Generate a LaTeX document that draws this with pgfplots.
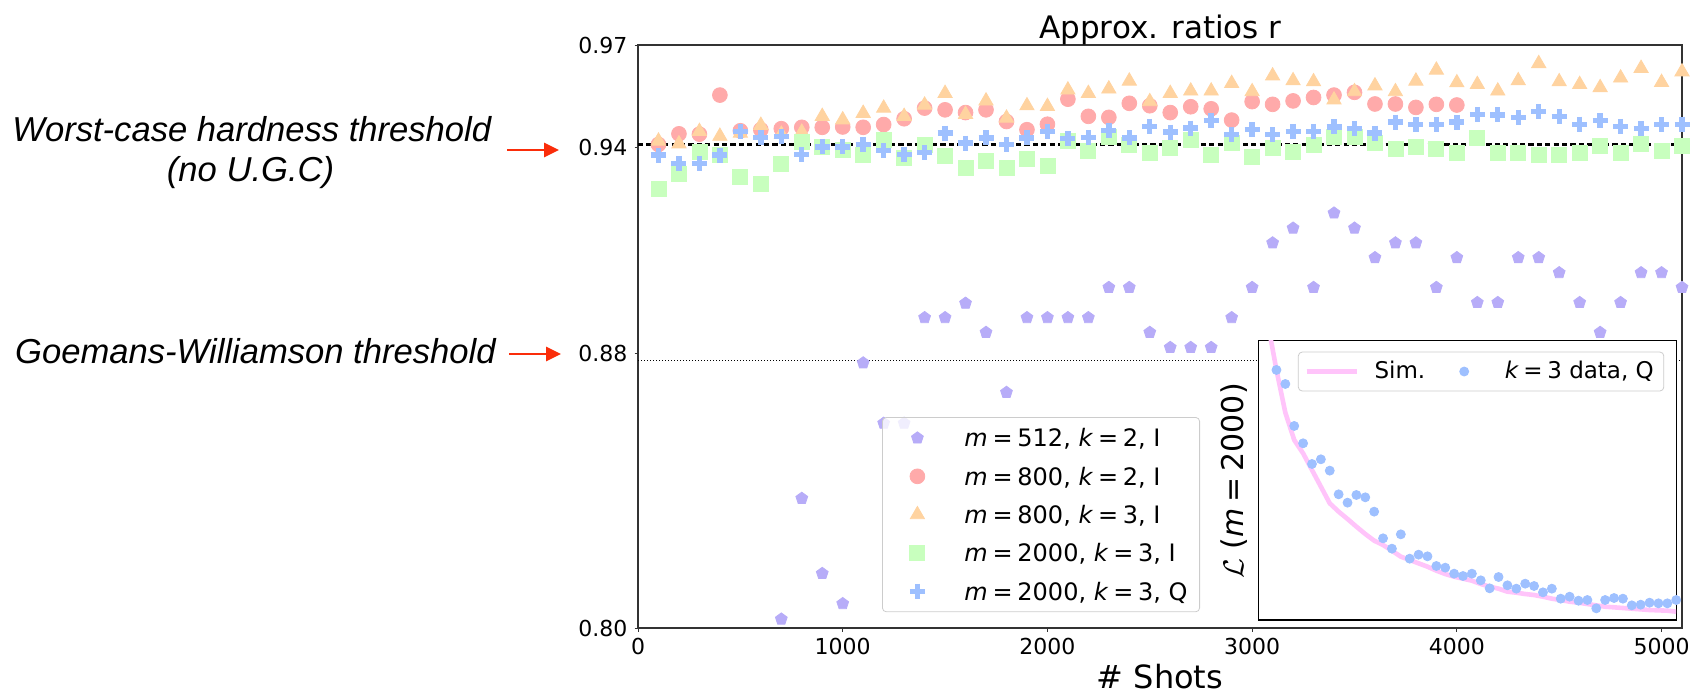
\documentclass[border=0pt]{standalone}
\usepackage{fontspec}
\setmainfont{DejaVu Sans}
\newfontfamily\arialfont{Liberation Sans}
\usepackage{pgfplots}
\pgfplotsset{compat=1.18}
\usetikzlibrary{arrows.meta,plotmarks}

\definecolor{cpurple}{RGB}{183,172,248}
\definecolor{cred}{RGB}{255,170,170}
\definecolor{corange}{RGB}{255,211,160}
\definecolor{cgreen}{RGB}{200,255,190}
\definecolor{cblue}{RGB}{158,192,255}
\definecolor{cpink}{RGB}{255,196,250}
\definecolor{arrowred}{RGB}{250,45,10}

\newcommand\eq{\hspace{0.2em}=\hspace{0.2em}}
\newcommand\mk[2]{\textit{m}\eq #1, \textit{k}\eq #2}

\pgfplotsset{
  mainleg/.style={legend image code/.code={
    \path[draw=none, fill=none] (-13.5pt,0pt) -- (21.5pt,0pt);
    \draw[##1, only marks, fill opacity=1, draw opacity=1] plot coordinates {(0pt,0pt)};}},
  simleg/.style={legend image code/.code={\draw[##1] (0pt,0pt) -- (25pt,0pt);}},
  dotleg/.style={legend image code/.code={
    \path[draw=none, fill=none] (-12.5pt,0pt) -- (12.5pt,0pt);
    \draw[##1, only marks] plot coordinates {(0pt,0pt)};}},
}

% ratio r vs number of shots
\pgfplotstableread{
x y
700 0.8026
800 0.8378
900 0.8159
1000 0.8071
1100 0.8773
1200 0.8597
1300 0.8597
1400 0.8905
1500 0.8905
1600 0.8947
1700 0.8862
1800 0.8687
1900 0.8905
2000 0.8905
2100 0.8905
2200 0.8905
2300 0.8993
2400 0.8993
2500 0.8862
2600 0.8818
2700 0.8818
2800 0.8818
2900 0.8905
3000 0.8993
3100 0.9123
3200 0.9166
3300 0.8993
3400 0.9210
3500 0.9166
3600 0.9080
3700 0.9123
3800 0.9123
3900 0.8993
4000 0.9080
4100 0.8949
4200 0.8949
4300 0.9080
4400 0.9080
4500 0.9036
4600 0.8949
4700 0.8862
4800 0.8949
4900 0.9036
5000 0.9036
5100 0.8993
}\tblA

% columns: x, m800k2, m800k3, m2000k3I, m2000k3Q
\pgfplotstableread{
x r o g b
100 0.9410 0.9420 0.9279 0.9379
200 0.9441 0.9412 0.9325 0.9355
300 0.9440 0.9448 0.9388 0.9355
400 0.9554 0.9434 0.9380 0.9379
500 0.9450 0.9443 0.9316 0.9448
600 0.9453 0.9466 0.9296 0.9431
700 0.9456 0.9440 0.9352 0.9434
800 0.9460 0.9446 0.9417 0.9380
900 0.9460 0.9492 0.9402 0.9403
1000 0.9461 0.9482 0.9395 0.9403
1100 0.9460 0.9501 0.9379 0.9410
1200 0.9468 0.9516 0.9424 0.9392
1300 0.9485 0.9492 0.9371 0.9380
1400 0.9516 0.9525 0.9410 0.9386
1500 0.9511 0.9559 0.9378 0.9443
1600 0.9503 0.9498 0.9342 0.9414
1700 0.9511 0.9537 0.9361 0.9429
1800 0.9477 0.9487 0.9342 0.9410
1900 0.9453 0.9523 0.9369 0.9429
2000 0.9469 0.9521 0.9347 0.9448
2100 0.9542 0.9569 0.9419 0.9427
2200 0.9492 0.9559 0.9392 0.9431
2300 0.9489 0.9572 0.9431 0.9451
2400 0.9530 0.9595 0.9408 0.9429
2500 0.9523 0.9535 0.9386 0.9463
2600 0.9503 0.9559 0.9400 0.9446
2700 0.9520 0.9566 0.9424 0.9458
2800 0.9514 0.9566 0.9381 0.9479
2900 0.9481 0.9588 0.9414 0.9439
3000 0.9535 0.9564 0.9373 0.9453
3100 0.9527 0.9610 0.9400 0.9439
3200 0.9537 0.9596 0.9388 0.9448
3300 0.9547 0.9593 0.9410 0.9448
3400 0.9554 0.9540 0.9431 0.9461
3500 0.9562 0.9564 0.9431 0.9456
3600 0.9528 0.9581 0.9414 0.9443
3700 0.9528 0.9564 0.9397 0.9475
3800 0.9518 0.9595 0.9403 0.9468
3900 0.9527 0.9627 0.9398 0.9469
4000 0.9525 0.9590 0.9386 0.9475
4100 nan 0.9585 0.9429 0.9498
4200 nan 0.9566 0.9386 0.9496
4300 nan 0.9596 0.9386 0.9489
4400 nan 0.9646 0.9379 0.9506
4500 nan 0.9593 0.9379 0.9492
4600 nan 0.9585 0.9386 0.9469
4700 nan 0.9576 0.9405 0.9479
4800 nan 0.9604 0.9386 0.9463
4900 nan 0.9632 0.9412 0.9456
5000 nan 0.9591 0.9392 0.9468
5100 nan 0.9622 0.9405 0.9469
}\tblB

% inset: loss, simulated and measured
\pgfplotstableread{
i sim
0 895
1 750
2 622
3 540
4 500
5 450
6 400
7 350
8 325
9 303
10 280
11 258
12 238
13 225
14 208
15 190
16 180
17 170
18 160
19 148
20 138
21 130
22 124
23 118
24 108
25 100
26 94
27 85
28 82
29 78
30 75
31 70
32 64
33 60
34 55
35 52
36 48
37 44
38 40
39 38
40 36
41 34
42 32
43 30
44 29
45 28
46 25
}\tblSim

\pgfplotstableread{
i q
1 750
2 708
3 582
4 530
5 468
6 482
7 448
8 377
9 352
10 375
11 368
12 325
13 245
14 214
15 257
16 184
17 196
18 191
19 162
20 157
21 139
22 132
23 139
24 119
25 95
26 129
27 104
28 94
29 109
30 102
31 83
32 94
33 64
34 70
35 58
36 60
37 35
38 60
39 66
40 64
41 44
42 46
43 52
44 50
45 50
46 60
}\tblQ

\begin{document}
\begin{tikzpicture}
\begin{axis}[
  at={(319pt,32.5pt)}, anchor=south west,
  width=522pt, height=291.5pt, scale only axis,
  xmin=0, xmax=5100, ymin=0.80, ymax=0.97,
  xtick={0,1000,2000,3000,4000,5000},
  xticklabels={0,1000,2000,3000,4000,5000},
  ytick={0.80,0.88,0.94,0.97},
  yticklabels={0.80,0.88,0.94,0.97},
  tick pos=left, tick align=outside,
  major tick length=1.75pt,
  tick style={black!80, line width=0.5pt},
  axis line style={black!80, line width=0.6pt},
  ticklabel style={font=\fontsize{11}{13}\selectfont},
  legend cell align=left,
  mainleg,
  legend style={at={(0.2337,0.3619)}, anchor=north west,
    draw=black!20, rounded corners=2pt, fill=white, fill opacity=0.8,
    text opacity=1, inner xsep=4pt, inner ysep=3.5pt, row sep=5.55pt,
    font=\fontsize{12}{14}\selectfont,
    nodes={inner xsep=2pt, inner ysep=0.6pt, text height=10.6pt, text depth=1.8pt}},
]
\addplot[only marks, mark=pentagon*, mark size=3.1pt, color=cpurple] table[x=x, y=y] {\tblA};
\addlegendentry{\mk{512}{2}, I}
\addplot[only marks, mark=*, mark size=3.7pt, color=cred] table[x=x, y=r] {\tblB};
\addlegendentry{\mk{800}{2}, I}
\addplot[only marks, mark=triangle*, mark size=4.1pt, color=corange] table[x=x, y=o] {\tblB};
\addlegendentry{\mk{800}{3}, I}
\addplot[only marks, mark=square*, mark size=3.75pt, color=cgreen] table[x=x, y=g] {\tblB};
\addlegendentry{\mk{2000}{3}, I}
\addplot[only marks, mark=+, mark size=3.75pt, color=cblue, mark options={line width=2.7pt}] table[x=x, y=b] {\tblB};
\addlegendentry{\mk{2000}{3}, Q}
\addplot[forget plot, black, line width=1.1pt, dash pattern=on 2.6pt off 1.6pt] coordinates {(0,0.941) (5100,0.941)};
\addplot[forget plot, black, line width=0.6pt, dash pattern=on 0.6pt off 0.9pt] coordinates {(0,0.878) (5100,0.878)};
\end{axis}

\begin{axis}[
  at={(629.2pt,36.5pt)}, anchor=south west,
  width=208.9pt, height=139.7pt, scale only axis,
  xmin=-1.03, xmax=46, ymin=0, ymax=838,
  xtick=\empty, ytick=\empty,
  axis background/.style={fill=white},
  axis line style={black, line width=0.6pt},
  legend columns=2, legend cell align=left,
  legend style={at={(0.9713,0.9606)}, anchor=north east,
    draw=black!20, rounded corners=2pt, fill=white,
    inner xsep=3pt, inner ysep=2.4pt,
    font=\fontsize{11.5}{13}\selectfont,
    /tikz/every odd column/.append style={column sep=5.8pt},
    /tikz/every even column/.append style={column sep=5pt},
    nodes={inner xsep=2pt, inner ysep=1.5pt, text height=9.5pt, text depth=2.2pt}},
]
\addplot[cpink, line width=2.3pt, simleg] table[x=i, y=sim] {\tblSim};
\addlegendentry{Sim.}
\addplot[only marks, mark=*, mark size=2.25pt, color=cblue, dotleg] table[x=i, y=q] {\tblQ};
\addlegendentry{\textit{k}\eq 3 data, Q}
\end{axis}

% titles and labels
\node[anchor=base, inner sep=0pt, font=\fontsize{15.5}{18}\selectfont] at (580.25pt,327.5pt) {Approx. ratios r};
\node[anchor=base, inner sep=0pt, font=\fontsize{16}{19}\selectfont] at (580pt,2.5pt) {\# Shots};
\node[rotate=90, inner sep=0pt, font=\fontsize{15}{18}\selectfont] at (617pt,106pt) {$\mathcal{L}$ (\textit{m}\eq 2000)};

% threshold annotations
\node[anchor=base, inner sep=0pt, font=\arialfont\itshape\fontsize{17.3}{20}\selectfont] at (125.9pt,275.65pt) {Worst-case hardness threshold};
\node[anchor=base, inner sep=0pt, font=\arialfont\itshape\fontsize{17.3}{20}\selectfont] at (125.3pt,255.65pt) {(no U.G.C)};
\node[anchor=base, inner sep=0pt, font=\arialfont\itshape\fontsize{17.3}{20}\selectfont] at (127.7pt,164.85pt) {Goemans-Williamson threshold};
\draw[arrowred, line width=1.4pt, -{Triangle[length=7.5pt,width=7pt]}] (253.5pt,271.5pt) -- (279.5pt,271.5pt);
\draw[arrowred, line width=1.4pt, -{Triangle[length=7.5pt,width=7pt]}] (254.5pt,169.5pt) -- (280.5pt,169.5pt);

\pgfresetboundingbox
\path[use as bounding box] (0pt,0pt) rectangle (847.5pt,346.5pt);
\end{tikzpicture}
\end{document}
